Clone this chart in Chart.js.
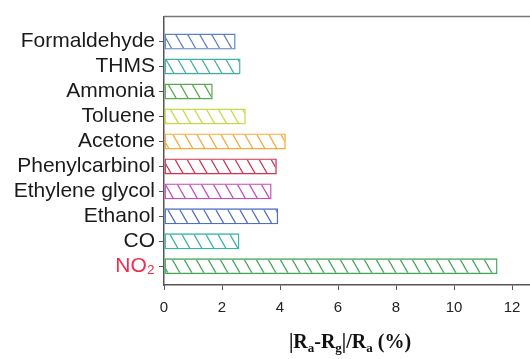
<!DOCTYPE html>
<html>
<head>
<meta charset="utf-8">
<script src="https://cdn.jsdelivr.net/npm/chart.js@4.4.0/dist/chart.umd.min.js"></script>
<style>
  html, body { margin: 0; padding: 0; background: #fff; }
  #wrap { width: 530px; height: 359px; }
</style>
</head>
<body>
<div id="wrap"><canvas id="chart" width="530" height="359"></canvas></div>
<script>
const gases = ['Formaldehyde', 'THMS', 'Ammonia', 'Toluene', 'Acetone', 'Phenylcarbinol', 'Ethylene glycol', 'Ethanol', 'CO', 'NO\u2082'];
const deviation = [2.47, 2.64, 1.68, 2.82, 4.2, 3.89, 3.71, 3.94, 2.6, 11.5];
const barColors = ['#5f7fc4', '#40b0a0', '#56aa4e', '#c8da48', '#f8a83c', '#cc3452', '#c84abb', '#5070bc', '#36b4a4', '#46a658'];
const xTicks = [0, 2, 4, 6, 8, 10, 12];

// diagonal "\" hatching, about 12px apart
function makeHatch(color) {
  const c = document.createElement('canvas');
  c.width = 12;
  c.height = 21;
  const g = c.getContext('2d');
  g.strokeStyle = color;
  g.lineWidth = 1.3;
  g.beginPath();
  [-12, 0, 12].forEach(dx => {
    g.moveTo(dx, 0);
    g.lineTo(dx + 12, 21);
  });
  g.stroke();
  return g.createPattern(c, 'repeat');
}

// axis title with subscripts + top frame line
const extras = {
  id: 'extras',
  afterDraw(chart) {
    const ctx = chart.ctx;
    const area = chart.chartArea;
    ctx.save();
    ctx.strokeStyle = '#777';
    ctx.lineWidth = 1.5;
    ctx.beginPath();
    ctx.moveTo(area.left, area.top);
    ctx.lineTo(area.right, area.top);
    ctx.stroke();

    const parts = [
      ['|R', false], ['a', true], ['-R', false], ['g', true], ['|/R', false], ['a', true], [' (%)', false]
    ];
    const big = 'bold 20px "Liberation Serif", "Times New Roman", serif';
    const small = 'bold 13px "Liberation Serif", "Times New Roman", serif';
    let total = 0;
    parts.forEach(p => {
      ctx.font = p[1] ? small : big;
      total += ctx.measureText(p[0]).width;
    });
    let x = 350 - total / 2;
    const y = 348;
    ctx.fillStyle = '#111';
    ctx.textBaseline = 'alphabetic';
    parts.forEach(p => {
      ctx.font = p[1] ? small : big;
      ctx.fillText(p[0], x, p[1] ? y + 4 : y);
      x += ctx.measureText(p[0]).width;
    });
    ctx.restore();
  }
};

new Chart(document.getElementById('chart'), {
  type: 'bar',
  data: {
    datasets: [{
      data: deviation.map((v, i) => ({ x: v, y: i })),
      backgroundColor: barColors.map(makeHatch),
      borderColor: barColors,
      borderWidth: 1.4,
      borderSkipped: false,
      barPercentage: 0.64,
      categoryPercentage: 1
    }]
  },
  options: {
    indexAxis: 'y',
    responsive: false,
    animation: false,
    layout: { padding: { top: 14, left: 0, right: 0, bottom: 0 } },
    plugins: {
      legend: { display: false },
      tooltip: { enabled: false }
    },
    scales: {
      x: {
        type: 'linear',
        min: 0,
        max: 12.62,
        afterBuildTicks: scale => { scale.ticks = xTicks.map(v => ({ value: v })); },
        afterFit: scale => { scale.height = 74; },
        grid: { drawOnChartArea: false, tickLength: 5, color: '#555' },
        border: { color: '#555', width: 1.5 },
        ticks: {
          padding: 9,
          color: '#222',
          font: { family: '"Liberation Sans", Arial, sans-serif', size: 15 }
        }
      },
      y: {
        type: 'linear',
        reverse: true,
        offset: false,
        min: -1,
        max: 9.75,
        afterBuildTicks: scale => { scale.ticks = gases.map((g, i) => ({ value: i })); },
        afterFit: scale => { scale.width = 164; },
        grid: { drawOnChartArea: false, offset: false, tickLength: 5, color: '#555' },
        border: { color: '#555', width: 1.5 },
        ticks: {
          autoSkip: false,
          padding: 4,
          callback: v => gases[v],
          color: c => (c.tick && c.tick.value === 9 ? '#ee2d4f' : '#1a1a1a'),
          font: { family: '"Liberation Sans", Arial, sans-serif', size: 21 }
        }
      }
    }
  },
  plugins: [extras]
});
</script>
</body>
</html>
